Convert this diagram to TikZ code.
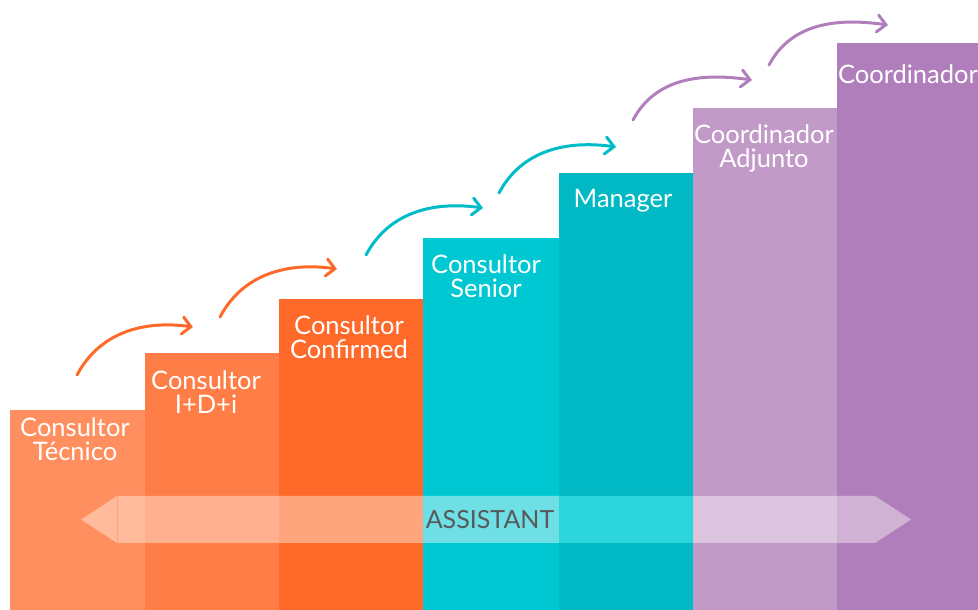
\documentclass[tikz,border=0pt]{standalone}
\usepackage{fontspec}
\setmainfont{Lato}
\usetikzlibrary{arrows.meta}
\definecolor{cA}{HTML}{FF8F5E}
\definecolor{cB}{HTML}{FF7E47}
\definecolor{cC}{HTML}{FF6A2A}
\definecolor{cD}{HTML}{00C8D2}
\definecolor{cE}{HTML}{00B9C5}
\definecolor{cF}{HTML}{C29AC8}
\definecolor{cG}{HTML}{B07FBB}
\definecolor{bA}{HTML}{FFBB9B}
\definecolor{bB}{HTML}{FFB08E}
\definecolor{bC}{HTML}{FFA57D}
\definecolor{bD}{HTML}{6EDFE5}
\definecolor{bE}{HTML}{2AD6DC}
\definecolor{bF}{HTML}{DAC4DE}
\definecolor{bG}{HTML}{D0B2D4}
\definecolor{arrO}{HTML}{FF6A2A}
\definecolor{arrT}{HTML}{00BCC8}
\definecolor{arrP}{HTML}{B07FBB}
\definecolor{txtgray}{HTML}{58595B}
\tikzset{
  lbl/.style={text=white, font=\fontsize{25.5}{24}\selectfont, align=center, anchor=north, inner sep=0pt},
  stepa/.style={line width=3pt, line cap=round, -{Straight Barb[length=8.5pt,width=17pt,line cap=round]}, out=62, in=172},
}
\begin{document}
\begin{tikzpicture}[x=1pt,y=1pt]
\useasboundingbox (0,0) rectangle (978,610);
% bars
\fill[cA] (10,0) rectangle (145,200);
\fill[cB] (145,0) rectangle (279,257);
\fill[cC] (279,0) rectangle (423,311);
\fill[cD] (423,0) rectangle (559,372);
\fill[cE] (559,0) rectangle (693,437);
\fill[cF] (693,0) rectangle (837,502);
\fill[cG] (837,0) rectangle (978,567);
% labels
\node[lbl] (l1) at (75,192) {Consultor\\Técnico};
\node[lbl] (l2) at (206,239) {Consultor\\I+D+i};
\node[lbl] (l3) at (349,294) {Consultor\\Confirmed};
\node[lbl] (l4) at (486,355) {Consultor\\Senior};
\node[lbl] (l5) at (623,421) {Manager};
\node[lbl] (l6) at (764,485) {Coordinador\\Adjunto};
\node[lbl] (l7) at (908,545) {Coordinador};
% band
\begin{scope}
\clip (81,90.5) -- (117,114) -- (875,114) -- (911,90.5) -- (875,67) -- (117,67) -- cycle;
\fill[bA] (0,60) rectangle (145,120);
\fill[bB] (145,60) rectangle (279,120);
\fill[bC] (279,60) rectangle (423,120);
\fill[bD] (423,60) rectangle (559,120);
\fill[bE] (559,60) rectangle (693,120);
\fill[bF] (693,60) rectangle (837,120);
\fill[bG] (837,60) rectangle (978,120);
\end{scope}
\draw[color=cA!80!white, line width=0.8pt] (117,67) -- (117,114);
\node[text=txtgray, font=\fontsize{25}{25}\selectfont, inner sep=0pt] (band) at (490,90.5) {ASSISTANT};
% arrows
\coordinate (s1) at (77,235);  \coordinate (e1) at (193,283);
\coordinate (s2) at (220,293); \coordinate (e2) at (337,341);
\coordinate (s3) at (366,355); \coordinate (e3) at (483,402);
\coordinate (s4) at (499,417); \coordinate (e4) at (616,463);
\coordinate (s5) at (633,490); \coordinate (e5) at (752,530);
\coordinate (s6) at (769,545); \coordinate (e6) at (888,585);
\draw[stepa, arrO] (s1) to (e1);
\draw[stepa, arrO] (s2) to (e2);
\draw[stepa, arrT] (s3) to (e3);
\draw[stepa, arrT] (s4) to (e4);
\draw[stepa, arrP] (s5) to (e5);
\draw[stepa, arrP] (s6) to (e6);
\end{tikzpicture}
\end{document}
